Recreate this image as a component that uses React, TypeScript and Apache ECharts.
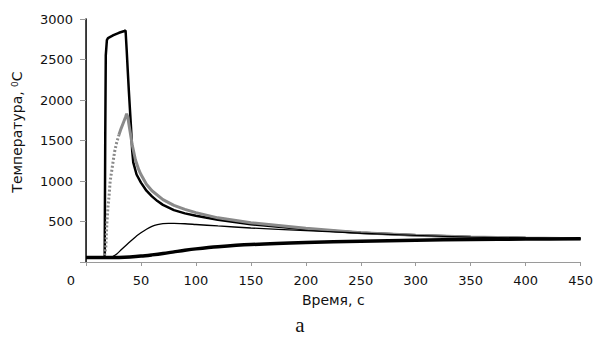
import React, { useEffect, useRef } from "react";
import * as echarts from "echarts";

// Time ticks / temperature ticks
const xTicks = [0, 50, 100, 150, 200, 250, 300, 350, 400, 450];
const yTicks = [0, 500, 1000, 1500, 2000, 2500, 3000];

// Upper thick black curve
const tUpper = [0, 10, 16, 17, 17.5, 18, 19, 20, 25, 30, 35, 36, 37, 38, 39, 40, 41, 42, 43, 46, 50, 55, 60, 65, 70, 80, 90, 100, 120, 150, 200, 250, 300, 350, 400, 450];
const tempUpper = [55, 55, 57, 70, 1500, 2550, 2740, 2765, 2800, 2830, 2852, 2858, 2620, 2360, 2110, 1880, 1650, 1380, 1230, 1080, 980, 880, 810, 752, 705, 640, 600, 572, 522, 465, 405, 360, 330, 310, 297, 288];

// Gray curve: rising part (sparse markers) and decay part
const tGrayRise = [0, 10, 16, 17, 18, 19, 20, 21, 22, 24, 26, 28, 30];
const tempGrayRise = [55, 55, 55, 90, 180, 480, 680, 820, 1000, 1180, 1360, 1480, 1570];
const tGrayDecay = [30, 32, 34, 36, 37, 38, 40, 42, 45, 48, 50, 55, 60, 70, 80, 90, 100, 120, 150, 200, 250, 300, 350, 400, 450];
const tempGrayDecay = [1570, 1650, 1720, 1790, 1830, 1790, 1620, 1450, 1260, 1140, 1080, 960, 880, 770, 700, 650, 610, 545, 485, 418, 362, 330, 310, 297, 288];

// Thin black curve
const tThin = [0, 20, 24, 28, 32, 36, 40, 45, 50, 55, 60, 65, 70, 75, 80, 90, 100, 120, 150, 200, 250, 300, 350, 400, 450];
const tempThin = [55, 55, 65, 100, 150, 200, 250, 310, 360, 405, 440, 462, 474, 478, 477, 472, 463, 445, 420, 388, 355, 328, 308, 296, 288];

// Lower thick black curve
const tLower = [0, 20, 30, 40, 50, 60, 70, 80, 90, 100, 120, 150, 200, 250, 300, 350, 400, 450];
const tempLower = [55, 55, 57, 63, 73, 88, 105, 125, 145, 162, 188, 215, 240, 257, 269, 277, 283, 287];

const pairs = (t: number[], v: number[]) => t.map((x, i) => [x, v[i]]);

const FONT = "DejaVu Sans";

export default function App() {
  const ref = useRef<HTMLDivElement>(null);
  useEffect(() => {
    if (!ref.current) return;
    const chart = echarts.init(ref.current, null, { renderer: "svg" });
    const axisGray = "#9a9a9a";
    chart.setOption({
      animation: false,
      backgroundColor: "#fff",
      grid: { left: 86, top: 19, right: 15, bottom: 76 },
      xAxis: [
        {
          type: "value",
          min: xTicks[0],
          max: xTicks[xTicks.length - 1],
          interval: 50,
          position: "bottom",
          axisLine: { show: true, lineStyle: { color: axisGray, width: 1 } },
          axisTick: { show: true, length: 4, lineStyle: { color: axisGray } },
          splitLine: { show: false },
          axisLabel: {
            margin: 12,
            fontFamily: FONT,
            fontSize: 13,
            color: "#111",
            formatter: (v: number) => (v === 0 ? "{z|0}" : String(v)),
            rich: { z: { fontFamily: FONT, fontSize: 13, color: "#111", padding: [0, 30, 0, 0] } },
          },
          name: "Время, с",
          nameLocation: "middle",
          nameGap: 31,
          nameTextStyle: { fontFamily: FONT, fontSize: 14, color: "#111" },
        },
        {
          type: "value",
          min: xTicks[0],
          max: xTicks[xTicks.length - 1],
          position: "top",
          axisLine: { show: true, lineStyle: { color: axisGray, width: 1 } },
          axisTick: { show: false },
          axisLabel: { show: false },
          splitLine: { show: false },
        },
      ],
      yAxis: [
        {
          type: "value",
          min: yTicks[0],
          max: yTicks[yTicks.length - 1],
          interval: 500,
          axisLine: { show: true, lineStyle: { color: axisGray, width: 1 } },
          axisTick: { show: true, length: 6, lineStyle: { color: axisGray } },
          splitLine: { show: false },
          axisLabel: {
            margin: 13,
            fontFamily: FONT,
            fontSize: 13,
            color: "#111",
            formatter: (v: number) => (v === 0 ? "" : String(v)),
          },
        },
        {
          type: "value",
          min: yTicks[0],
          max: yTicks[yTicks.length - 1],
          position: "right",
          axisLine: { show: true, lineStyle: { color: "#111", width: 1.5 } },
          axisTick: { show: false },
          axisLabel: { show: false },
          splitLine: { show: false },
        },
      ],
      series: [
        {
          type: "line",
          data: pairs(tUpper, tempUpper),
          showSymbol: false,
          lineStyle: { color: "#000", width: 2.5 },
          z: 2,
        },
        {
          type: "line",
          data: pairs(tGrayRise, tempGrayRise),
          showSymbol: false,
          lineStyle: { color: "#8a8a8a", width: 3, type: [2, 2] },
          z: 3,
        },
        {
          type: "line",
          data: pairs(tGrayDecay, tempGrayDecay),
          showSymbol: false,
          lineStyle: { color: "#8a8a8a", width: 3 },
          z: 3,
        },
        {
          type: "line",
          data: pairs(tThin, tempThin),
          showSymbol: false,
          smooth: 0.3,
          lineStyle: { color: "#000", width: 1.3 },
          z: 4,
        },
        {
          type: "line",
          data: pairs(tLower, tempLower),
          showSymbol: false,
          smooth: 0.3,
          lineStyle: { color: "#000", width: 3.5 },
          z: 5,
        },
      ],
      graphic: [
        {
          type: "text",
          x: 17,
          y: 132,
          rotation: Math.PI / 2,
          style: {
            text: "Температура, {sup|0}C",
            fontFamily: FONT,
            fontSize: 14,
            fill: "#111",
            align: "center",
            verticalAlign: "middle",
            rich: { sup: { fontFamily: FONT, fontSize: 9, verticalAlign: "top", fill: "#111" } },
          },
        },
        {
          type: "text",
          x: 300,
          y: 325,
          style: {
            text: "a",
            fontFamily: "Liberation Serif",
            fontSize: 21,
            fill: "#111",
            align: "center",
            verticalAlign: "middle",
          },
        },
      ],
    });
    return () => chart.dispose();
  }, []);
  return <div ref={ref} style={{ width: 596, height: 338, position: "absolute", left: 0, top: 0 }} />;
}
